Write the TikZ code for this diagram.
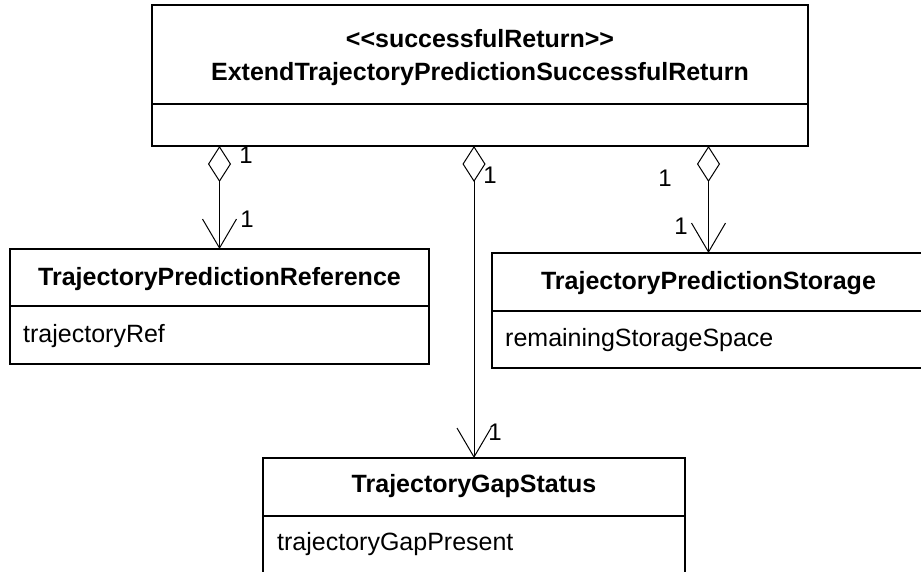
\documentclass[tikz,border=0pt]{standalone}
\usepackage{fontspec}
\newfontfamily\umlfont{Liberation Sans}
\usetikzlibrary{arrows.meta}
\begin{document}
\begin{tikzpicture}[x=1pt,y=-1pt,
  box/.style={draw=black,line width=1.2pt,anchor=north west,inner sep=0pt,outer sep=0pt},
  divider/.style={draw=black,line width=1.2pt},
  cname/.style={font=\umlfont\fontsize{25}{29}\selectfont\bfseries,anchor=base,inner sep=0pt},
  attr/.style={font=\umlfont\fontsize{25}{29}\selectfont,anchor=base west,inner sep=0pt},
  mult/.style={font=\umlfont\fontsize{24}{28}\selectfont,inner sep=0pt},
  assoc/.style={line width=0.9pt,{Diamond[open,length=36pt,width=23pt,line width=1pt]}-{Straight Barb[length=29pt,width=34pt,line width=1pt]}}
]
\useasboundingbox (0,0) rectangle (921,571);
\clip (0,0) rectangle (921,571);

% top class
\node[box,minimum width=656pt,minimum height=141pt] (top) at (152,5) {};
\draw[divider] (152,104) coordinate (td1) -- (808,104) coordinate (td2);
\node[cname] (topst) at (480,47) {<<successfulReturn>>};
\node[cname] (topnm) at (480,80) {ExtendTrajectoryPredictionSuccessfulReturn};

% reference class
\node[box,minimum width=419pt,minimum height=115pt] (ref) at (10,249) {};
\draw[divider] (10,306) coordinate (rd1) -- (429,306) coordinate (rd2);
\node[cname] (refnm) at (219.5,285) {TrajectoryPredictionReference};
\node[attr] (refat) at (23,342) {trajectoryRef};

% storage class
\node[box,minimum width=433pt,minimum height=115pt] (stor) at (492,253) {};
\draw[divider] (492,311) coordinate (sd1) -- (925,311) coordinate (sd2);
\node[cname] (stornm) at (708.5,289) {TrajectoryPredictionStorage};
\node[attr] (storat) at (505,346) {remainingStorageSpace};

% gap status class
\node[box,minimum width=422pt,minimum height=130pt] (gap) at (263,458) {};
\draw[divider] (263,516) coordinate (gd1) -- (685,516) coordinate (gd2);
\node[cname] (gapnm) at (474,492) {TrajectoryGapStatus};
\node[attr] (gapat) at (277,550) {trajectoryGapPresent};

% associations
\draw[assoc] (top.south -| ref.north) -- (ref.north);
\draw[assoc] (top.south -| gap.north) -- (gap.north);
\draw[assoc] (top.south -| stor.north) -- (stor.north);

% multiplicities
\node[mult] (m1) at (246,155) {1};
\node[mult] (m2) at (247,219) {1};
\node[mult] (m3) at (490,175) {1};
\node[mult] (m4) at (495,432) {1};
\node[mult] (m5) at (665,178) {1};
\node[mult] (m6) at (681,226) {1};
\end{tikzpicture}
\end{document}
